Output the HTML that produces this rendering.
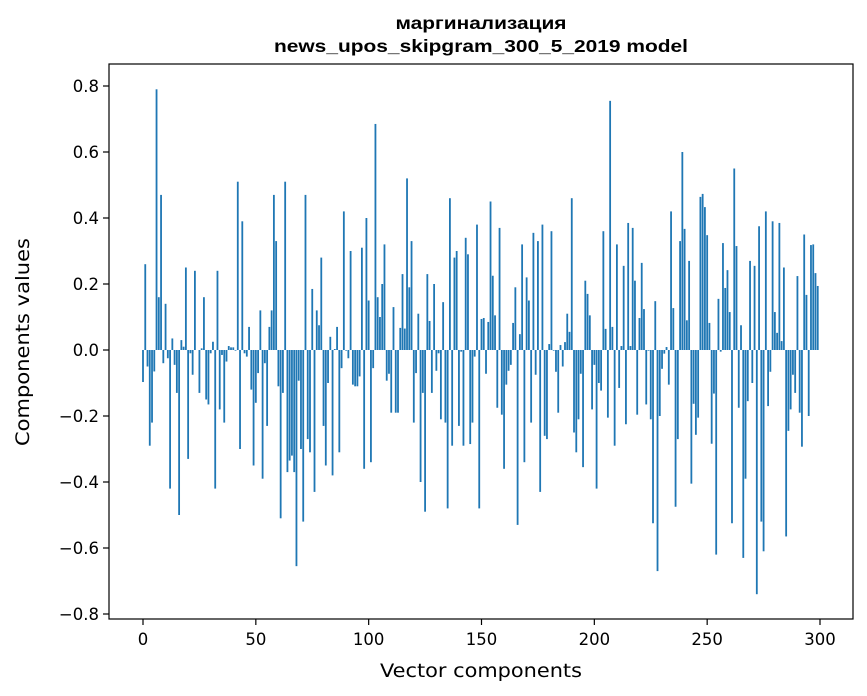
<!DOCTYPE html>
<html><head><meta charset="utf-8"><style>
body{margin:0;background:#fff;}
svg{display:block;font-family:"DejaVu Sans","Liberation Sans",sans-serif;}
</style></head><body>
<svg id="chart" width="867" height="696" viewBox="0 0 867 696" xmlns="http://www.w3.org/2000/svg">
<rect width="867" height="696" fill="#fff"/>
<text x="481" y="29" text-anchor="middle" font-size="17.5" font-weight="bold" font-family="Liberation Sans, sans-serif" textLength="171" lengthAdjust="spacingAndGlyphs">маргинализация</text>
<text x="481" y="52" text-anchor="middle" font-size="17.5" font-weight="bold" font-family="Liberation Sans, sans-serif" textLength="414" lengthAdjust="spacingAndGlyphs">news_upos_skipgram_300_5_2019 model</text>
<g id="bars"></g>
<g id="axes"></g>
<text x="481" y="677" text-anchor="middle" font-size="19" textLength="202" lengthAdjust="spacingAndGlyphs">Vector components</text>
<text transform="translate(29,342) rotate(-90)" text-anchor="middle" font-size="19" textLength="208" lengthAdjust="spacingAndGlyphs">Components values</text>
</svg>
<script>
const values = [
-0.097,0.26,-0.05,-0.29,-0.22,-0.065,0.79,0.16,0.47,-0.04,
0.14,-0.025,-0.42,0.035,-0.045,-0.13,-0.50,0.03,0.01,0.25,
-0.33,-0.01,-0.075,0.24,0.0,-0.13,0.005,0.16,-0.15,-0.165,
-0.01,0.025,-0.42,0.24,-0.18,-0.015,-0.22,-0.035,0.012,0.008,
0.008,-0.002,0.51,-0.30,0.39,-0.01,-0.02,0.07,-0.12,-0.35,
-0.16,-0.07,0.12,-0.39,-0.04,-0.23,0.07,0.12,0.47,0.33,
-0.11,-0.51,-0.13,0.51,-0.37,-0.335,-0.32,-0.37,-0.655,-0.093,
-0.30,-0.52,0.47,-0.27,-0.31,0.185,-0.43,0.12,0.075,0.28,
-0.23,-0.35,-0.10,0.04,-0.38,0.003,0.07,-0.31,-0.055,0.42,
-0.002,-0.025,0.30,-0.105,-0.11,-0.11,-0.08,0.31,-0.36,0.40,
0.15,-0.34,-0.055,0.685,0.16,0.10,0.20,0.32,-0.093,-0.072,
-0.19,0.13,-0.19,-0.19,0.067,0.23,0.065,0.52,0.19,0.33,
-0.22,-0.07,0.11,-0.40,-0.13,-0.49,0.23,0.088,-0.13,0.20,
-0.063,-0.01,-0.21,0.145,-0.22,-0.48,0.46,-0.29,0.28,0.30,
-0.23,-0.005,-0.29,0.34,0.29,-0.285,-0.22,-0.02,0.38,-0.48,
0.094,0.097,-0.072,0.085,0.45,0.225,0.105,-0.175,0.37,-0.196,
-0.36,-0.105,-0.063,-0.045,0.082,0.19,-0.53,0.048,0.32,-0.34,
0.22,0.15,-0.22,0.355,-0.075,0.33,-0.43,0.38,-0.26,-0.27,
0.018,0.36,-0.002,-0.066,-0.19,0.015,-0.05,0.024,0.11,0.055,
0.46,-0.25,-0.31,-0.21,-0.072,-0.355,0.21,0.17,0.105,-0.18,
-0.045,-0.42,-0.10,-0.123,0.36,0.064,-0.205,0.755,0.07,-0.29,
0.32,-0.115,0.012,0.255,-0.225,0.385,0.012,0.37,0.21,-0.196,
0.097,0.264,0.124,-0.165,-0.002,-0.21,-0.525,0.148,-0.67,-0.20,
-0.057,-0.011,0.009,-0.105,0.42,0.127,-0.475,-0.27,0.33,0.60,
0.367,0.09,0.27,-0.405,-0.163,-0.257,-0.205,0.464,0.473,0.433,
0.348,0.082,-0.284,-0.132,-0.62,0.155,-0.005,0.324,0.188,0.242,
0.115,-0.525,0.55,0.315,-0.175,0.075,-0.63,-0.39,-0.155,0.27,
-0.10,0.255,-0.74,0.375,-0.52,-0.61,0.42,-0.17,-0.066,0.39,
0.115,0.052,0.385,0.027,0.25,-0.565,-0.245,-0.18,-0.075,-0.13,
0.224,-0.19,-0.293,0.35,0.167,-0.20,0.318,0.32,0.233,0.194
];
const xTicks = [0,50,100,150,200,250,300];
const yTicks = [-0.8,-0.6,-0.4,-0.2,0.0,0.2,0.4,0.6,0.8];
const yTickLabels = ["\u22120.8","\u22120.6","\u22120.4","\u22120.2","0.0","0.2","0.4","0.6","0.8"];

const NS="http://www.w3.org/2000/svg";
const L=109,R=853,T=64,B=619;
function xs(v){return 143+v*(677/300);}
function ys(v){return 350-v*330;}
const bars=document.getElementById('bars');
values.forEach((v,i)=>{
  const r=document.createElementNS(NS,'rect');
  
  
  const w=0.8*(677/300);
  r.setAttribute('x',xs(i)-w/2);
  r.setAttribute('width',w);
  r.setAttribute('y',Math.min(ys(v),ys(0)));
  r.setAttribute('height',Math.abs(ys(v)-ys(0)));
  r.setAttribute('fill','#1f77b4');
  bars.appendChild(r);
});
const axes=document.getElementById('axes');
const frame=document.createElementNS(NS,'rect');


frame.setAttribute('x',L);frame.setAttribute('y',T);
frame.setAttribute('width',R-L);frame.setAttribute('height',B-T);
frame.setAttribute('fill','none');frame.setAttribute('stroke','#000');frame.setAttribute('stroke-width','1.2');
axes.appendChild(frame);
xTicks.forEach(t=>{
  const ln=document.createElementNS(NS,'line');
  
  
  ln.setAttribute('x1',xs(t));ln.setAttribute('x2',xs(t));
  ln.setAttribute('y1',B);ln.setAttribute('y2',B+6);
  ln.setAttribute('stroke','#000');ln.setAttribute('stroke-width','1.2');
  axes.appendChild(ln);
  const tx=document.createElementNS(NS,'text');
  
  
  tx.setAttribute('x',xs(t));tx.setAttribute('y',645);
  tx.setAttribute('text-anchor','middle');tx.setAttribute('font-size','16.5');
  tx.textContent=t;
  axes.appendChild(tx);
});
yTicks.forEach((t,i)=>{
  const ln=document.createElementNS(NS,'line');
  
  
  ln.setAttribute('x1',L-6);ln.setAttribute('x2',L);
  ln.setAttribute('y1',ys(t));ln.setAttribute('y2',ys(t));
  ln.setAttribute('stroke','#000');ln.setAttribute('stroke-width','1.2');
  axes.appendChild(ln);
  const tx=document.createElementNS(NS,'text');
  
  
  tx.setAttribute('x',L-10);tx.setAttribute('y',ys(t)+6);
  tx.setAttribute('text-anchor','end');tx.setAttribute('font-size','16.5');
  tx.textContent=yTickLabels[i];
  axes.appendChild(tx);
});
</script>
</body></html>
